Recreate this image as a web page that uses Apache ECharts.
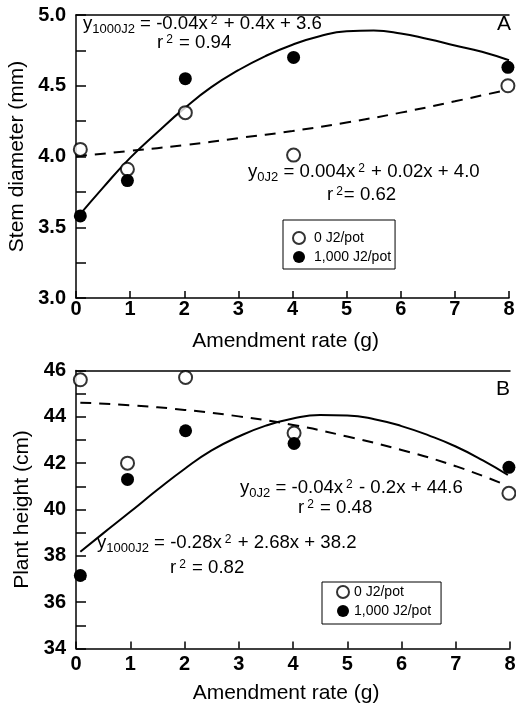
<!DOCTYPE html>
<html><head><meta charset="utf-8">
<script src="https://cdn.jsdelivr.net/npm/echarts@6/dist/echarts.min.js"></script>
<style>html,body{margin:0;padding:0;background:#fff}#c{width:516px;height:707px}</style>
</head><body><div id="c"></div>
<script>
// ---- data ----
const seriesNames = ['0 J2/pot', '1,000 J2/pot'];
const pointRates = [0.08, 0.95, 2.02, 4.02, 7.98];          // amendment rate (g), as plotted
const stemOpen = [4.05, 3.91, 4.31, 4.01, 4.50];             // 0 J2/pot, stem diameter (mm)
const stemFilled = [3.58, 3.83, 4.55, 4.70, 4.63];           // 1,000 J2/pot
const heightOpen = [45.6, 42.0, 45.7, 43.3, 40.7];           // 0 J2/pot, plant height (cm)
const heightFilled = [37.15, 41.3, 43.4, 42.85, 41.82];      // 1,000 J2/pot
// fitted curves as drawn (x, y)
const stemFitFilled = [[0.05,3.58],[0.5,3.78],[1.0,3.99],[1.5,4.17],[2.0,4.34],[2.5,4.49],[3.0,4.61],[3.5,4.71],[4.0,4.79],[4.5,4.85],[5.0,4.885],[5.5,4.89],[6.0,4.87],[6.5,4.83],[7.0,4.785],[7.5,4.74],[8.0,4.68]];
const stemFitOpen = [[0.0,4.0],[1.0,4.04],[2.0,4.08],[3.0,4.13],[4.0,4.18],[5.0,4.24],[6.0,4.31],[7.0,4.39],[7.95,4.47]];
const heightFitFilled = [[0.08,38.18],[0.5,38.97],[1.0,39.9],[1.5,40.85],[2.0,41.75],[2.5,42.55],[3.0,43.15],[3.5,43.62],[4.0,43.93],[4.5,44.08],[5.0,44.06],[5.5,43.9],[6.0,43.6],[6.5,43.2],[7.0,42.72],[7.5,42.12],[7.96,41.49]];
const heightFitOpen = [[0.08,44.61],[1.0,44.5],[2.0,44.3],[3.0,44.02],[4.0,43.65],[5.0,43.15],[6.0,42.57],[7.0,41.87],[7.9,41.08]];
const rateRange = [0, 8];
const stemRange = [3.0, 5.0];
const heightRange = [34, 46];

const FF = '"Liberation Sans", Arial, Helvetica, sans-serif';
const BLACK = '#000';

function xAx(grid, nameGap, margin) {
  return {
    gridIndex: grid, type: 'value', min: rateRange[0], max: rateRange[1], interval: 1,
    axisLine: {show: true, lineStyle: {color: BLACK, width: 1.5}},
    axisTick: {show: true, inside: true, length: 7, lineStyle: {color: BLACK, width: 1.5}},
    axisLabel: {margin: margin, fontSize: 20, fontWeight: 'bold', color: BLACK, fontFamily: FF},
    splitLine: {show: false},
    name: 'Amendment rate (g)', nameLocation: 'middle', nameGap: nameGap,
    nameTextStyle: {fontSize: 21, color: BLACK, fontFamily: FF, padding: [0, 14, 0, 0]}
  };
}
function topAx(grid) {
  return {
    gridIndex: grid, type: 'value', position: 'top', min: rateRange[0], max: rateRange[1],
    axisLine: {show: true, lineStyle: {color: BLACK, width: 1.5}},
    axisTick: {show: false}, axisLabel: {show: false}, splitLine: {show: false}
  };
}
function yAx(grid, range, interval, dec, name) {
  return {
    gridIndex: grid, type: 'value', min: range[0], max: range[1], interval: interval,
    axisLine: {show: true, lineStyle: {color: BLACK, width: 1.5}},
    axisTick: {show: true, inside: true, length: 10, lineStyle: {color: BLACK, width: 1.5}},
    minorTick: {show: true, splitNumber: 2, length: 10, lineStyle: {color: BLACK, width: 1.5}},
    axisLabel: {margin: 10, fontSize: 20, fontWeight: 'bold', color: BLACK, fontFamily: FF,
      formatter: v => v.toFixed(dec)},
    splitLine: {show: false}, minorSplitLine: {show: false},
    name: name, nameLocation: 'middle', nameGap: 43,
    nameTextStyle: {fontSize: 21, color: BLACK, fontFamily: FF}
  };
}
function pts(xs, ys) { return xs.map((x, i) => [x, ys[i]]); }
function scat(name, grid, data, open) {
  return {
    name: name, type: 'scatter', xAxisIndex: grid, yAxisIndex: grid, data: data,
    symbol: 'circle', symbolSize: 13, clip: false, z: 5,
    itemStyle: open ? {color: '#fff', borderColor: BLACK, borderWidth: 2} : {color: BLACK, borderColor: BLACK, borderWidth: 0, opacity: 1},
    emphasis: {disabled: true}
  };
}
function fit(grid, data, dashed) {
  return {
    type: 'line', xAxisIndex: grid, yAxisIndex: grid, data: data, smooth: 0.5,
    showSymbol: false, symbol: 'none', clip: false, z: 3,
    lineStyle: {color: BLACK, width: 2, type: dashed ? [11, 8] : 'solid'},
    emphasis: {disabled: true}, silent: true
  };
}
const richEq = {
  m: {fontSize: 18.6, fontFamily: FF, lineHeight: 20, fill: BLACK},
  sub: {fontSize: 13, fontFamily: FF, verticalAlign: 'bottom', height: 10, fill: BLACK},
  sup: {fontSize: 12, fontFamily: FF, verticalAlign: 'top', height: 14, padding: [0, 1, 0, 3], fill: BLACK}
};
function eq(x, y, text) {
  return {type: 'text', x: x, y: y, z: 10,
    style: {text: text, rich: richEq, align: 'left', verticalAlign: 'middle', fill: BLACK, font: '18px ' + FF}};
}
function legend(left, top, padding, gap, textPad) {
  return {
    data: seriesNames, left: left, top: top, orient: 'vertical', icon: 'circle',
    itemWidth: 12, itemHeight: 12, itemGap: gap, padding: padding,
    borderColor: BLACK, borderWidth: 1, backgroundColor: '#fff', selectedMode: false,
    textStyle: {fontSize: 14, color: BLACK, fontFamily: FF, padding: [0, 0, 0, textPad]}
  };
}

const chart = echarts.init(document.getElementById('c'), null, {renderer: 'canvas'});
chart.setOption({
  animation: false,
  backgroundColor: '#fff',
  grid: [
    {left: 76, top: 15, width: 433, height: 283, outerBoundsMode: 'none', containLabel: false},
    {left: 76, top: 370.5, width: 434, height: 278, outerBoundsMode: 'none', containLabel: false}
  ],
  xAxis: [xAx(0, 33, 1), xAx(1, 34, 6), topAx(0), topAx(1)],
  yAxis: [yAx(0, stemRange, 0.5, 1, 'Stem diameter (mm)'), yAx(1, heightRange, 2, 0, 'Plant height (cm)')],
  legend: [legend(283, 220, [11, 4, 5, 9], 5, 4), legend(322, 582, [3, 10, 6, 14], 5, 0)],
  series: [
    fit(0, stemFitFilled, false), fit(0, stemFitOpen, true),
    scat(seriesNames[0], 0, pts(pointRates, stemOpen), true),
    scat(seriesNames[1], 0, pts(pointRates, stemFilled), false),
    fit(1, heightFitFilled, false), fit(1, heightFitOpen, true),
    scat(seriesNames[0], 1, pts(pointRates, heightOpen), true),
    scat(seriesNames[1], 1, pts(pointRates, heightFilled), false)
  ],
  graphic: [
    eq(83, 24, '{m|y}{sub|1000J2}{m| = -0.04x}{sup|2}{m| + 0.4x + 3.6}'),
    eq(157, 43, '{m|r}{sup|2}{m| = 0.94}'),
    eq(248, 172, '{m|y}{sub|0J2}{m| = 0.004x}{sup|2}{m| + 0.02x + 4.0}'),
    eq(327, 195, '{m|r}{sup|2}{m|= 0.62}'),
    eq(240, 488, '{m|y}{sub|0J2}{m| = -0.04x}{sup|2}{m| - 0.2x + 44.6}'),
    eq(298, 508, '{m|r}{sup|2}{m| = 0.48}'),
    eq(97, 543, '{m|y}{sub|1000J2}{m| = -0.28x}{sup|2}{m| + 2.68x + 38.2}'),
    eq(170, 568, '{m|r}{sup|2}{m| = 0.82}'),
    {type: 'text', x: 504, y: 24, z: 10, style: {text: 'A', font: '21px ' + FF, fill: BLACK, align: 'center', verticalAlign: 'middle'}},
    {type: 'text', x: 503, y: 389, z: 10, style: {text: 'B', font: '21px ' + FF, fill: BLACK, align: 'center', verticalAlign: 'middle'}}
  ]
});
</script></body></html>
